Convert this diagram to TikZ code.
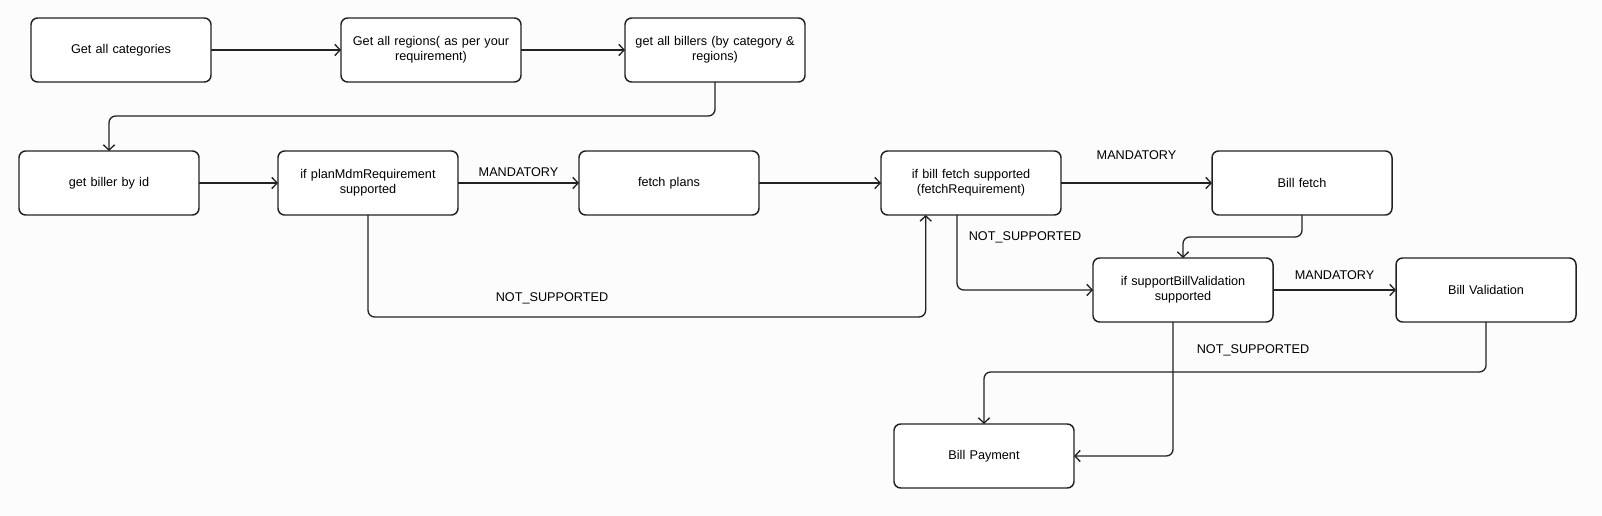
\documentclass[tikz,border=0pt]{standalone}
\usepackage{fontspec}
\setmainfont{Liberation Sans}
\usepackage{xcolor}
\usetikzlibrary{arrows.meta,positioning}

\definecolor{bgc}{HTML}{FCFCFC}
\definecolor{linec}{HTML}{222222}

\begin{document}
\begin{tikzpicture}[
  x=0.75pt, y=-0.75pt,
  box/.style={draw=linec, line width=1.1pt, rounded corners=5pt, fill=white, align=center,
    minimum width=135pt, minimum height=48pt, text width=125pt, outer sep=0pt,
    font=\fontsize{9.5}{11.5}\selectfont},
  lbl/.style={font=\fontsize{9.5}{11.5}\selectfont},
  flow/.style={draw=linec, line width=1pt, rounded corners=5pt},
  >={Straight Barb[length=4pt,width=8.5pt]}
]
  \fill[bgc] (0,0) rectangle (1602,516);
  \useasboundingbox (0,0) rectangle (1602,516);

  % first row
  \node[box] (cats) at (121,50) {Get all categories};
  \node[box, right=97.5pt of cats] (regions) {Get all regions( as per your\\requirement)};
  \node[box, right=78pt of regions] (billers) {get all billers (by category \&\\regions)};

  % second row
  \node[box] (byid) at (109,183) {get biller by id};
  \node[box, right=59.25pt of byid] (plancheck) {if planMdmRequirement\\supported};
  \node[box, right=90.75pt of plancheck] (plans) {fetch plans};
  \node[box, right=91.5pt of plans] (fetchcheck) {if bill fetch supported\\(fetchRequirement)};
  \node[box, right=113.25pt of fetchcheck] (billfetch) {Bill fetch};

  % third row
  \node[box] (validcheck) at (1183,290) {if supportBillValidation\\supported};
  \node[box, right=92.25pt of validcheck] (validation) {Bill Validation};

  \node[box] (payment) at (984,456) {Bill Payment};

  \draw[flow, ->] (cats) -- (regions);
  \draw[flow, ->] (regions) -- (billers);
  \draw[flow, ->] (billers.south) -- ++(0,34) -| (byid.north);
  \draw[flow, ->] (byid) -- (plancheck);
  \draw[flow, ->] (plancheck) -- node[lbl, above=1pt] {MANDATORY} (plans);
  \draw[flow, ->] (plancheck.south) -- ++(0,102) -| node[lbl, above=6pt, pos=0.165] {NOT\_SUPPORTED} ([xshift=-34pt]fetchcheck.south);
  \draw[flow, ->] (plans) -- (fetchcheck);
  \draw[flow, ->] (fetchcheck) -- node[lbl, above=14pt] {MANDATORY} (billfetch);
  \draw[flow, ->] ([xshift=-10.5pt]fetchcheck.south) |- node[lbl, right=5pt, pos=0.15] {NOT\_SUPPORTED} (validcheck.west);
  \draw[flow, ->] (billfetch.south) -- ++(0,22) -| (validcheck.north);
  \draw[flow, ->] (validcheck) -- node[lbl, above=4pt] {MANDATORY} (validation);
  \draw[flow, ->] ([xshift=-7.5pt]validcheck.south) |- (payment.east);
  \draw[flow, ->] (validation.south) -- ++(0,50) -| (payment.north);
  \node[lbl] (notsup) at (1253,350) {NOT\_SUPPORTED};
\end{tikzpicture}
\end{document}
